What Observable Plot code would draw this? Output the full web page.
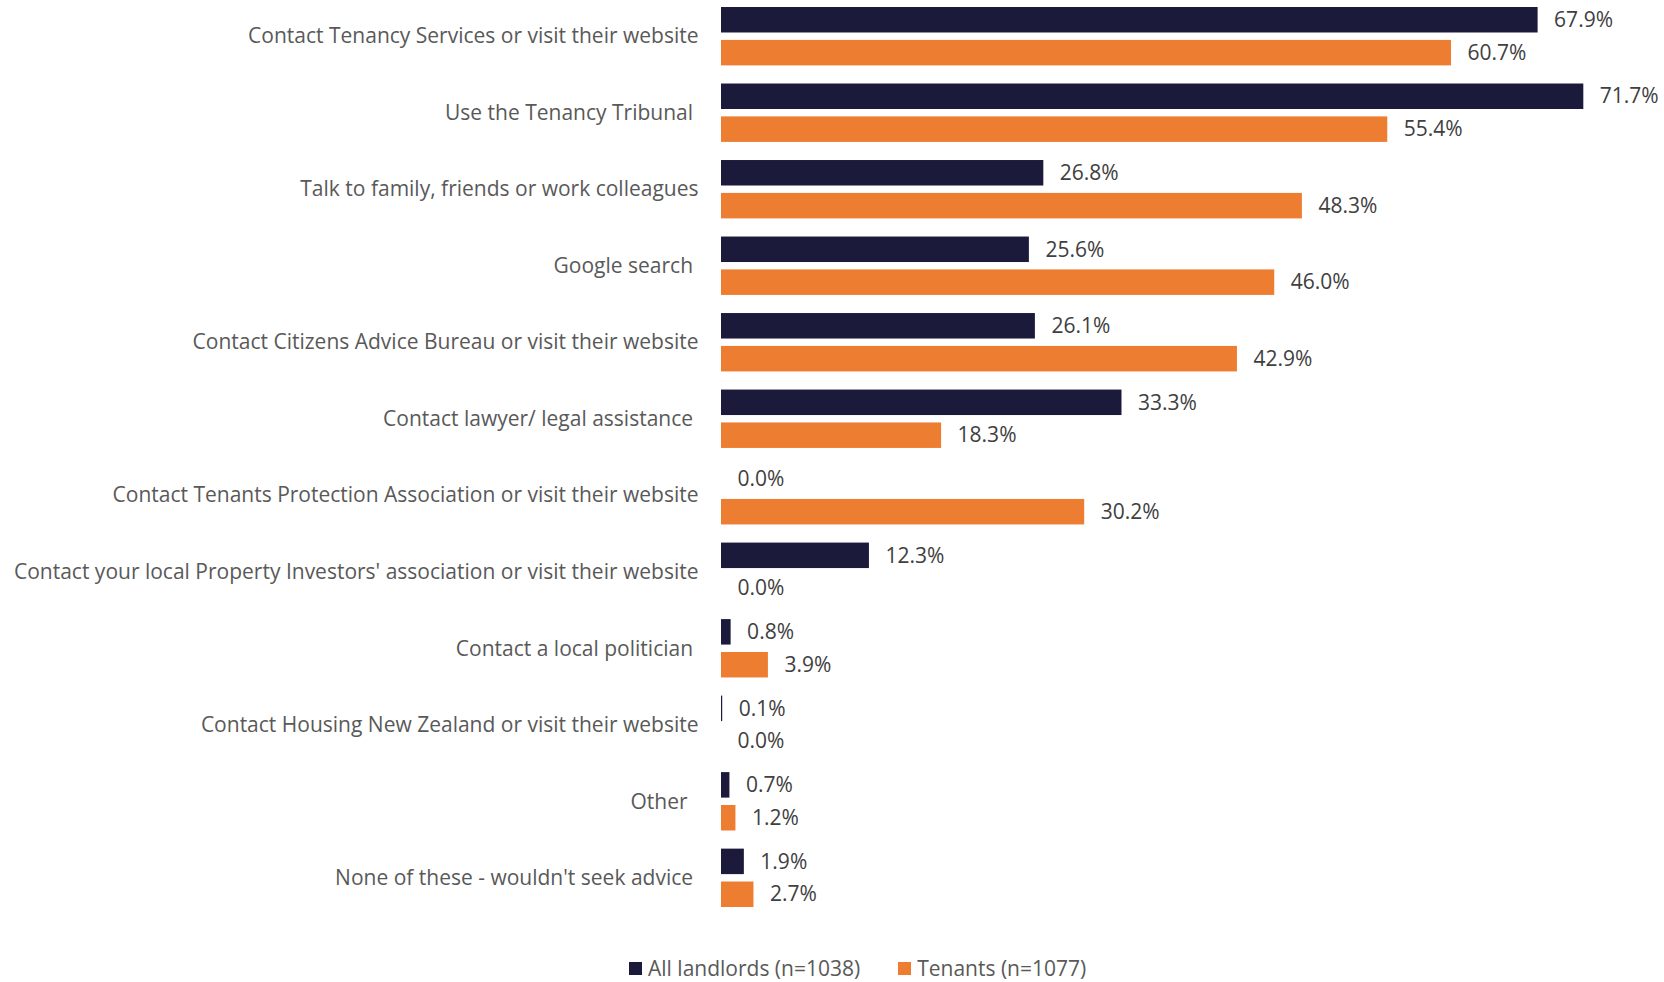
<!DOCTYPE html>
<html>
<head>
<meta charset="utf-8">
<script src="https://cdn.jsdelivr.net/npm/d3@7"></script>
<script src="https://cdn.jsdelivr.net/npm/@observablehq/plot@0.6"></script>
<style>
  html, body { margin: 0; padding: 0; background: #fff; }
  body { width: 1664px; height: 982px; position: relative; overflow: hidden; font-family: "Open Sans", sans-serif; }
  #chart { position: absolute; left: 0; top: 0; }
  #legend { position: absolute; left: 629px; top: 954px; display: flex; align-items: center; font-size: 21px; color: #595959; }
  .item { display: flex; align-items: center; }
  .sw { width: 13px; height: 13px; margin-right: 6px; }
</style>
</head>
<body>
<div id="chart"></div>
<div id="legend"></div>
<script>
const categories = [
  "Contact Tenancy Services or visit their website",
  "Use the Tenancy Tribunal\u00a0",
  "Talk to family, friends or work colleagues",
  "Google search\u00a0",
  "Contact Citizens Advice Bureau or visit their website",
  "Contact lawyer/ legal assistance\u00a0",
  "Contact Tenants Protection Association or visit their website",
  "Contact your local Property Investors' association or visit their website",
  "Contact a local politician\u00a0",
  "Contact Housing New Zealand or visit their website",
  "Other\u00a0\u00a0",
  "None of these - wouldn't seek advice\u00a0"
];
const series = ["All landlords (n=1038)", "Tenants (n=1077)"];
const landlords = [67.9, 71.7, 26.8, 25.6, 26.1, 33.3, 0.0, 12.3, 0.8, 0.1, 0.7, 1.9];
const tenants   = [60.7, 55.4, 48.3, 46.0, 42.9, 18.3, 30.2, 0.0, 3.9, 0.0, 1.2, 2.7];
const colors = ["#1b1a3a", "#ed7d31"];

const data = [];
categories.forEach((c, i) => {
  data.push({category: c, series: series[0], value: landlords[i]});
  data.push({category: c, series: series[1], value: tenants[i]});
});

const chart = Plot.plot({
  width: 1664,
  height: 930,
  marginLeft: 721,
  marginRight: 41,
  marginTop: 7,
  marginBottom: 23,
  style: {fontFamily: "Open Sans, sans-serif", fontSize: "21px", color: "#595959"},
  x: {domain: [0, 75], axis: null},
  y: {domain: series, axis: null, paddingInner: 0.225, paddingOuter: 0, round: false},
  fy: {domain: categories, paddingInner: 0.237, paddingOuter: 0, round: false, label: null},
  color: {domain: series, range: colors},
  marks: [
    Plot.axisFy({anchor: "left", tickSize: 0, tickPadding: 23, label: null, fill: "#595959", fontSize: 21, lineWidth: Infinity}),
    Plot.barX(data, {fy: "category", y: "series", x: "value", fill: "series"}),
    Plot.text(data, {fy: "category", y: "series", x: "value", text: d => d.value.toFixed(1) + "%", textAnchor: "start", dx: 16, fill: "#404040", fontSize: 21})
  ]
});
document.getElementById("chart").appendChild(chart);

const legend = document.getElementById("legend");
series.forEach((s, i) => {
  const item = document.createElement("div");
  item.className = "item";
  if (i > 0) item.style.marginLeft = "38px";
  const sw = document.createElement("div");
  sw.className = "sw";
  sw.style.background = colors[i];
  const t = document.createElement("span");
  t.textContent = s;
  item.appendChild(sw);
  item.appendChild(t);
  legend.appendChild(item);
});
</script>
</body>
</html>
